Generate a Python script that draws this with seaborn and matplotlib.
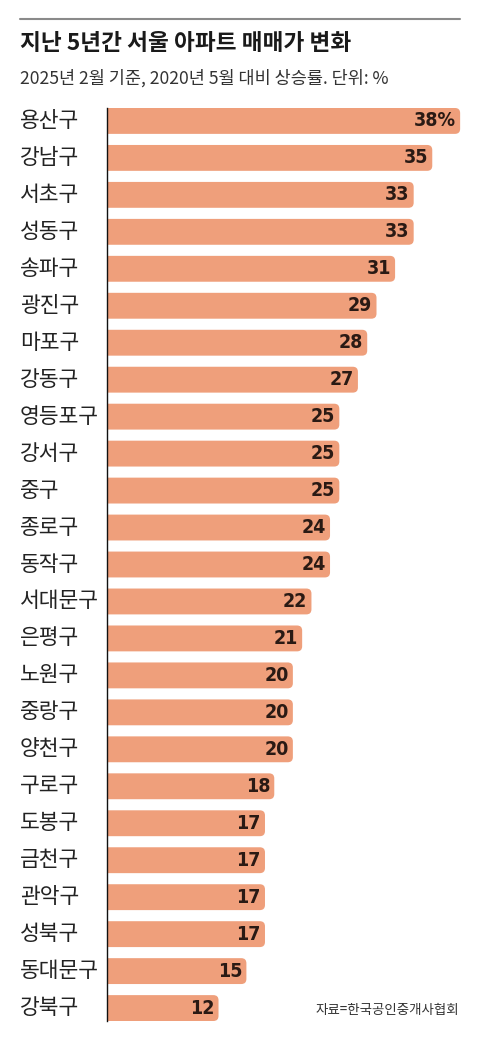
import matplotlib
matplotlib.use("Agg")
import matplotlib.pyplot as plt
import matplotlib.transforms as mtransforms
from matplotlib.patches import FancyBboxPatch
import seaborn as sns
import pandas as pd

districts = ["용산구", "강남구", "서초구", "성동구", "송파구", "광진구", "마포구", "강동구",
             "영등포구", "강서구", "중구", "종로구", "동작구", "서대문구", "은평구", "노원구",
             "중랑구", "양천구", "구로구", "도봉구", "금천구", "관악구", "성북구", "동대문구", "강북구"]
rates = [38, 35, 33, 33, 31, 29, 28, 27, 25, 25, 25, 24, 24, 22, 21, 20, 20, 20, 18, 17, 17, 17, 17, 15, 12]

title = "지난 5년간 서울 아파트 매매가 변화"
subtitle = "2025년 2월 기준, 2020년 5월 대비 상승률. 단위: %"
source = "자료=한국공인중개사협회"

sns.set_style("white")
plt.rcParams['font.family'] = ['Noto Sans CJK KR', 'DejaVu Sans']

bar_color = "#EF9F7B"
text_color = "#222222"

df = pd.DataFrame({"district": districts, "rate": rates})

fig = plt.figure(figsize=(4.8, 10.4), dpi=100)
ax = fig.add_axes([107 / 480, 1 - 1021 / 1040, 355 / 480, 913 / 1040])
sns.barplot(data=df, x="rate", y="district", color=bar_color, width=0.7,
            saturation=1, ax=ax, orient="h")

# swap square bars for ones with rounded ends
for p in list(ax.patches):
    x0, y0, w, h = p.get_x(), p.get_y(), p.get_width(), p.get_height()
    p.remove()
    ax.add_patch(FancyBboxPatch((x0 - 2, y0), w + 2, h,
                                boxstyle="round,pad=0,rounding_size=0.55",
                                mutation_aspect=0.25, fc=bar_color, ec="none"))

ax.set_xlim(0, 38.2)
ax.set_ylim(len(districts) - 1 + 0.35, -0.35)
ax.set_xticks([])
ax.tick_params(left=False, labelleft=False)
ax.set_xlabel("")
ax.set_ylabel("")
for s in ["top", "right", "bottom"]:
    ax.spines[s].set_visible(False)
ax.spines["left"].set_color("#111111")
ax.spines["left"].set_linewidth(1.0)

trans = mtransforms.blended_transform_factory(fig.transFigure, ax.transData)
for i, (d, v) in enumerate(zip(districts, rates)):
    ax.text(20 / 480, i, d, transform=trans, ha="left", va="center",
            fontsize=15.5, color=text_color)
    lab = f"{v}%" if i == 0 else f"{v}"
    ax.annotate(lab, (v, i), xytext=(-3, 0), textcoords="offset points",
                ha="right", va="center", fontsize=14, fontweight="bold",
                fontstretch="condensed", color="#2a1a14", family="DejaVu Sans")

fig.add_artist(plt.Line2D([20 / 480, 460 / 480], [1 - 19 / 1040] * 2,
                          color="#8a8a8a", lw=1.5))
fig.text(20 / 480, 1 - 44 / 1040, title, ha="left", va="center",
         fontsize=16.3, fontweight="bold", color="#1a1a1a")
fig.text(20 / 480, 1 - 78 / 1040, subtitle, ha="left", va="center",
         fontsize=12.6, color="#333333")
fig.text(459 / 480, 1 - 1010 / 1040, source, ha="right", va="center",
         fontsize=9.7, color="#333333")

fig.savefig("out.png", dpi=100)
